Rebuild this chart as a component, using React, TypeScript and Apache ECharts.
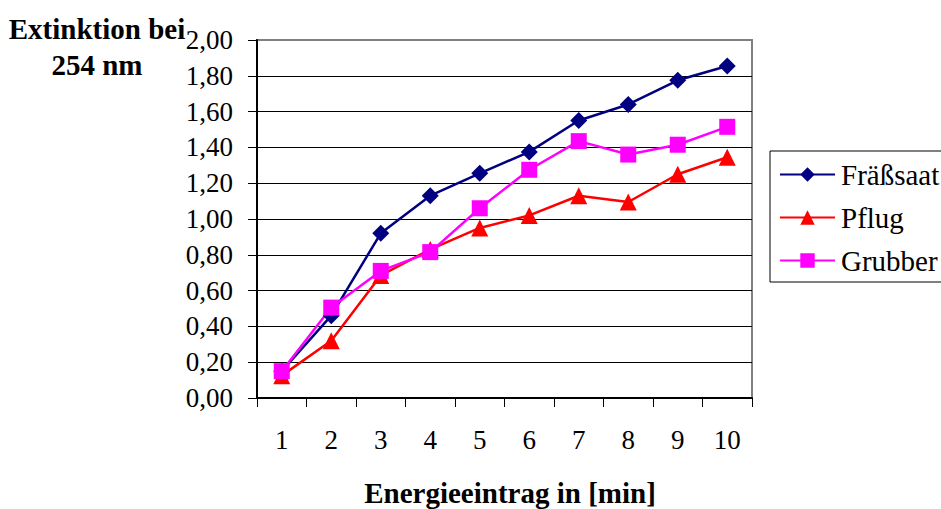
import React, { useEffect, useRef } from "react";
import * as echarts from "echarts";

const categories = ["1", "2", "3", "4", "5", "6", "7", "8", "9", "10"];
const fraessaat = [0.15, 0.46, 0.92, 1.13, 1.255, 1.375, 1.55, 1.64, 1.775, 1.855];
const pflug = [0.125, 0.32, 0.685, 0.83, 0.95, 1.02, 1.13, 1.095, 1.25, 1.345];
const grubber = [0.15, 0.505, 0.71, 0.815, 1.06, 1.275, 1.435, 1.36, 1.415, 1.515];
const seriesNames = ["Fräßsaat", "Pflug", "Grubber"];
const yAxisTitle = "Extinktion bei\n254 nm";
const xAxisTitle = "Energieeintrag in [min]";

const FONT = "Liberation Serif, Times New Roman, Times, DejaVu Serif, serif";

export default function App() {
  const ref = useRef<HTMLDivElement>(null);
  useEffect(() => {
    document.body.style.margin = "0";
    const chart = echarts.init(ref.current!, null, { renderer: "svg" });
    const mk = (name: string, data: number[], color: string, symbol: string, size: number) => ({
      name,
      type: "line",
      data,
      symbol,
      symbolSize: size,
      lineStyle: { color, width: 2.5 },
      itemStyle: { color },
      emphasis: { disabled: true },
    });
    chart.setOption({
      animation: false,
      backgroundColor: "#ffffff",
      textStyle: { fontFamily: FONT },
      grid: {
        left: 257,
        top: 40,
        width: 495,
        height: 358,
        show: true,
        borderColor: "#808080",
        borderWidth: 2,
        backgroundColor: "transparent",
      },
      legend: {
        orient: "vertical",
        left: 770,
        top: 151,
        data: seriesNames,
        itemWidth: 55,
        itemHeight: 18,
        itemGap: 14,
        padding: [9, 30, 7, 9],
        borderColor: "#000",
        borderWidth: 1,
        backgroundColor: "#fff",
        textStyle: { fontFamily: FONT, fontSize: 29, color: "#000", padding: [0, 0, 0, 1] },
      },
      xAxis: {
        type: "category",
        data: categories,
        boundaryGap: true,
        axisLine: { lineStyle: { color: "#000", width: 2 } },
        axisTick: { show: true, length: 9, inside: false, alignWithLabel: false, lineStyle: { color: "#000", width: 1 } },
        axisLabel: { fontFamily: FONT, fontSize: 27, color: "#000", margin: 28 },
        splitLine: { show: false },
      },
      yAxis: {
        type: "value",
        min: 0,
        max: 2,
        interval: 0.2,
        axisLine: { show: true, lineStyle: { color: "#000", width: 2 } },
        axisTick: { show: true, length: 9, lineStyle: { color: "#000", width: 1 } },
        axisLabel: {
          fontFamily: FONT,
          fontSize: 27,
          color: "#000",
          margin: 24,
          formatter: (v: number) => v.toFixed(2).replace(".", ","),
        },
        splitLine: { show: true, showMinLine: false, showMaxLine: false, lineStyle: { color: "#000", width: 1 } },
      },
      graphic: [
        {
          type: "text",
          x: 97,
          y: 11,
          style: {
            text: yAxisTitle,
            fontFamily: FONT,
            fontWeight: "bold",
            fontSize: 29,
            fill: "#000",
            align: "center",
            verticalAlign: "top",
            lineHeight: 36,
          },
        },
        {
          type: "text",
          x: 510,
          y: 493,
          style: {
            text: xAxisTitle,
            fontFamily: FONT,
            fontWeight: "bold",
            fontSize: 29,
            fill: "#000",
            align: "center",
            verticalAlign: "middle",
          },
        },
      ],
      series: [
        mk(seriesNames[0], fraessaat, "#000080", "diamond", 17),
        mk(seriesNames[1], pflug, "#FF0000", "triangle", 17),
        mk(seriesNames[2], grubber, "#FF00FF", "rect", 16),
      ],
    });
    return () => chart.dispose();
  }, []);
  return <div ref={ref} style={{ position: "fixed", left: 0, top: 0, width: 941, height: 509 }} />;
}
